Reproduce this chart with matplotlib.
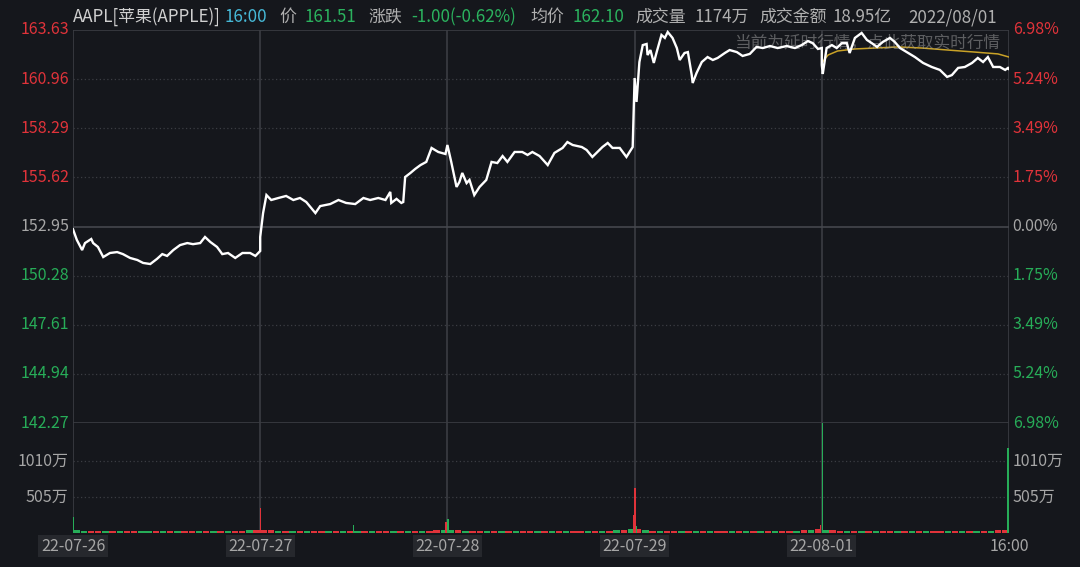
import matplotlib
matplotlib.use("Agg")
import matplotlib.pyplot as plt
import numpy as np

plt.rcParams['font.family'] = ['Noto Sans CJK SC', 'DejaVu Sans']

# ---------------- data ----------------
day_labels = ["22-07-26", "22-07-27", "22-07-28", "22-07-29", "22-08-01", "16:00"]
minutes_per_day = 390

d1_min = [0, 8, 19, 25, 38, 42, 52, 63, 77, 92, 104, 119, 134, 146, 161, 175, 186, 196, 209, 223, 238,
          250, 265, 275, 286, 300, 311, 323, 338, 353, 369, 380, 390]
d1_px = [152.80, 152.22, 151.67, 152.05, 152.27, 152.05, 151.84, 151.29, 151.51, 151.56, 151.45, 151.24,
         151.13, 150.97, 150.91, 151.19, 151.45, 151.35, 151.67, 151.94, 152.05, 151.99, 152.05, 152.38,
         152.11, 151.84, 151.45, 151.51, 151.24, 151.51, 151.51, 151.35, 151.62]

d2_min = [0, 6, 13, 23, 38, 54, 69, 83, 96, 115, 125, 146, 163, 179, 198, 215, 229, 246, 261, 271, 273,
          284, 294, 298, 302, 313, 323, 334, 346, 357, 371, 386]
d2_px = [152.38, 153.68, 154.66, 154.39, 154.50, 154.61, 154.39, 154.50, 154.28, 153.68, 154.06, 154.17,
         154.39, 154.23, 154.17, 154.50, 154.39, 154.50, 154.39, 154.83, 154.23, 154.45, 154.23, 154.28,
         155.64, 155.86, 156.08, 156.29, 156.46, 157.22, 157.00, 156.89]

d3_min = [0, 8, 19, 25, 31, 40, 46, 56, 67, 81, 92, 104, 115, 125, 140, 156, 167, 177, 192, 209, 223,
          240, 250, 261, 280, 290, 302, 323, 334, 344, 359, 373, 386]
d3_px = [157.38, 156.46, 155.10, 155.37, 155.86, 155.31, 155.48, 154.66, 155.10, 155.48, 156.46, 156.40,
         156.78, 156.46, 157.00, 157.00, 156.84, 157.00, 156.78, 156.29, 156.95, 157.22, 157.54, 157.38,
         157.27, 157.11, 156.73, 157.27, 157.49, 157.22, 157.22, 156.73, 157.27]

d4_min = [0, 4, 10, 17, 25, 27, 33, 40, 46, 56, 63, 69, 79, 88, 94, 104, 111, 119, 121, 129, 140, 152,
          163, 173, 188, 198, 213, 225, 240, 254, 267, 282, 298, 317, 334, 348, 361, 371, 382, 390]
d4_px = [161.02, 159.72, 161.89, 162.81, 162.87, 162.27, 162.54, 161.84, 162.43, 163.36, 163.20, 163.52,
         163.20, 162.65, 162.00, 162.38, 162.43, 161.18, 160.75, 161.29, 161.89, 162.16, 162.00, 162.11,
         162.38, 162.54, 162.43, 162.22, 162.33, 162.71, 162.65, 162.76, 162.65, 162.76, 162.65, 162.81,
         163.03, 162.92, 162.60, 162.65]

d5_min = [0, 2, 10, 21, 31, 42, 52, 58, 69, 83, 94, 104, 115, 127, 142, 152, 163, 177, 194, 211, 229,
          246, 261, 271, 284, 298, 313, 325, 336, 346, 357, 371, 382, 388, 390]
d5_px = [161.73, 161.24, 162.65, 162.81, 162.65, 162.92, 162.92, 162.38, 163.20, 163.47, 163.09, 162.92,
         162.71, 162.98, 163.20, 162.98, 162.65, 162.43, 162.16, 161.84, 161.62, 161.46, 161.08, 161.18,
         161.57, 161.62, 161.84, 162.11, 161.89, 162.16, 161.62, 161.62, 161.46, 161.57, 161.51]

avg_min = [0, 13, 33, 69, 111, 159, 209, 263, 319, 367, 390]
avg_px = [161.84, 162.27, 162.49, 162.60, 162.65, 162.71, 162.65, 162.54, 162.43, 162.33, 162.16]

price_ticks = [163.63, 160.96, 158.29, 155.62, 152.95, 150.28, 147.61, 144.94, 142.27]
pct_labels = ["6.98%", "5.24%", "3.49%", "1.75%", "0.00%", "1.75%", "3.49%", "5.24%", "6.98%"]
vol_ticks = [1010, 505]
vol_tick_labels = ["1010万", "505万"]

# volume (万), small background bars in 15-minute slots, colour flags r/g
small_vol = [
    [44, 34, 30, 32, 28, 30, 27, 26, 28, 27, 25, 26, 28, 25, 27, 26, 25, 27, 26, 28, 29, 28, 31, 33, 36, 46],
    [46, 36, 32, 30, 29, 28, 27, 28, 26, 27, 28, 26, 27, 29, 26, 27, 28, 26, 27, 29, 28, 30, 32, 34, 38, 48],
    [48, 38, 33, 32, 30, 29, 28, 27, 28, 26, 28, 27, 29, 26, 28, 27, 26, 28, 27, 29, 30, 31, 33, 36, 40, 50],
    [50, 40, 35, 32, 31, 30, 29, 28, 27, 28, 27, 26, 28, 27, 26, 28, 27, 28, 29, 28, 30, 32, 34, 37, 41, 52],
    [46, 37, 33, 31, 30, 28, 29, 27, 28, 26, 27, 28, 26, 27, 28, 26, 27, 28, 27, 29, 30, 31, 33, 35, 39, 48],
]
small_col = ["ggrrgrgrrggrgrgrrgrgrgrrgr",
             "rrgrgrgrrgrgrgrgrrgrgrgrrg",
             "grgrrgrgrgrrgrgrgrrgrgrgrg",
             "rgrgrrgrgrgrrgrgrgrgrrgrgr",
             "grrgrgrgrrgrgrgrrgrgrgrgrr"]
spike_t = [1, 391, 584, 777, 781, 1167, 1171, 1174, 1557, 1561, 1948]
spike_v = [224, 351, 110, 150, 200, 250, 631, 95, 112, 1543, 1192]
spike_c = ["g", "r", "g", "r", "g", "r", "r", "g", "r", "g", "g"]

header = [("AAPL[苹果(APPLE)]", 73, "#d0d0d0"), ("16:00", 225, "#46b8d6"), ("价", 279, "#b0b0b0"),
          ("161.51", 305, "#2bb25e"), ("涨跌", 368, "#b0b0b0"), ("-1.00(-0.62%)", 411, "#2bb25e"),
          ("均价", 530, "#b0b0b0"), ("162.10", 573, "#2bb25e"), ("成交量", 635, "#b0b0b0"),
          ("1174万", 694, "#b0b0b0"), ("成交金额", 759, "#b0b0b0"), ("18.95亿", 833, "#b0b0b0"),
          ("2022/08/01", 908, "#b0b0b0")]

# ---------------- style ----------------
BG = "#15171c"
RED = "#e0333a"
GREEN = "#27ad58"
GRAY = "#a6a6a6"
GRID = "#3b3d43"

W_, H_ = 1080, 567
fig = plt.figure(figsize=(W_ / 100, H_ / 100), dpi=100, facecolor=BG)

def px_rect(x0, y0, x1, y1):
    return [x0 / W_, 1 - y1 / H_, (x1 - x0) / W_, (y1 - y0) / H_]

ax = fig.add_axes(px_rect(73, 30, 1009, 423), facecolor=BG)
axv = fig.add_axes(px_rect(73, 423, 1009, 533), facecolor=BG)

for a in (ax, axv):
    for s in a.spines.values():
        s.set_visible(False)
    a.set_xlim(0, 5 * minutes_per_day)
    a.set_xticks([])
    a.set_yticks([])
    for k in range(0, 6):
        a.axvline(k * minutes_per_day, color=GRID, lw=1.2, zorder=1)

ax.set_ylim(142.27, 163.63)
axv.set_ylim(0, 1543)

# price grid lines
for p in price_ticks:
    if p in (163.63, 142.27, 152.95):
        ax.axhline(p, color="#45474d" if p == 152.95 else GRID, lw=1.2, zorder=1)
    else:
        ax.axhline(p, color=GRID, lw=0.9, ls=(0, (1, 2)), zorder=1)
for v in vol_ticks:
    axv.axhline(v, color=GRID, lw=0.9, ls=(0, (1, 2)), zorder=1)

# price tick labels
for p, pl in zip(price_ticks, pct_labels):
    if p > 152.96:
        c = RED
    elif p < 152.94:
        c = GREEN
    else:
        c = GRAY
    ax.text(-0.004, p, f"{p:.2f}", transform=ax.get_yaxis_transform(), ha="right", va="center",
            color=c, fontsize=11.5)
    ax.text(1.004, p, pl, transform=ax.get_yaxis_transform(), ha="left", va="center",
            color=c, fontsize=11.5)
for v, vl in zip(vol_ticks, vol_tick_labels):
    axv.text(-0.005, v, vl, transform=axv.get_yaxis_transform(), ha="right", va="center",
             color=GRAY, fontsize=11.5)
    axv.text(1.004, v, vl, transform=axv.get_yaxis_transform(), ha="left", va="center",
             color=GRAY, fontsize=11.5)

# price line
t_all, p_all = [], []
for d, (mm, pp) in enumerate([(d1_min, d1_px), (d2_min, d2_px), (d3_min, d3_px), (d4_min, d4_px), (d5_min, d5_px)]):
    t_all += [d * minutes_per_day + m for m in mm]
    p_all += pp
ax.plot(t_all, p_all, color="white", lw=1.7, zorder=4, solid_joinstyle="miter")
ax.plot([4 * minutes_per_day + m for m in avg_min], avg_px, color="#c9a227", lw=1.1, zorder=3)

# watermark
ax.text(0.9905, 0.968, "当前为延时行情，点此获取实时行情", transform=ax.transAxes, ha="right", va="center",
        color="#9a9a9a", alpha=0.55, fontsize=12, zorder=3.5)

# volume
slot = 15
for d in range(5):
    for i, (v, c) in enumerate(zip(small_vol[d], small_col[d])):
        axv.bar(d * minutes_per_day + i * slot + slot / 2, v, width=slot * 0.9,
                color=RED if c == "r" else GREEN, zorder=2, linewidth=0)
for t, v, c in zip(spike_t, spike_v, spike_c):
    axv.bar(t, v, width=2.6, color=RED if c == "r" else GREEN, zorder=3, linewidth=0)

# date labels
for k, lab in enumerate(day_labels):
    axv.text(k * minutes_per_day, -0.12, lab, transform=axv.get_xaxis_transform(), ha="center",
             va="center", color=GRAY, fontsize=11.5,
             bbox=dict(boxstyle="square,pad=0.15", facecolor="#26282d", edgecolor="none")
             if k < 5 else None)

# header
for txt, x, c in header:
    fig.text(x / W_, 1 - 17 / H_, txt, ha="left", va="center", color=c, fontsize=12.2)

fig.savefig("out.png", dpi=100, facecolor=BG)
